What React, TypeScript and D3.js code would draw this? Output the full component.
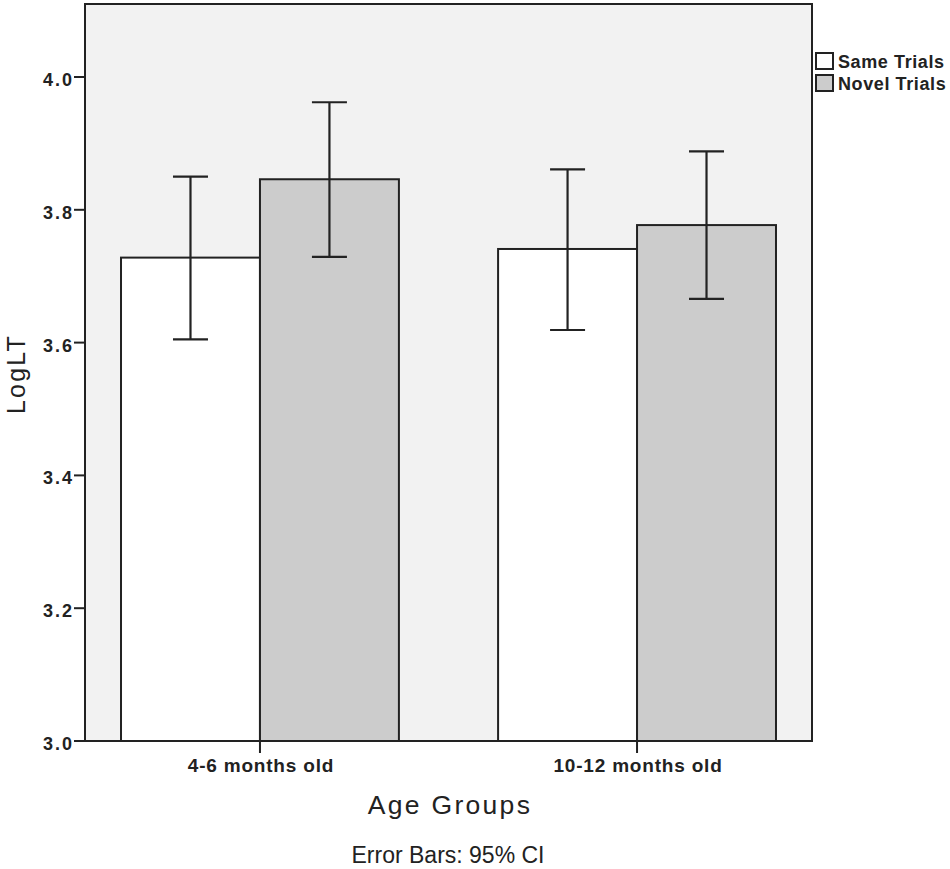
import React, { useEffect, useRef } from "react";
import * as d3 from "d3";

const categories = ["4-6 months old", "10-12 months old"];
const seriesNames = ["Same Trials", "Novel Trials"];
const meanSame = [3.728, 3.741];
const meanNovel = [3.846, 3.777];
const lowSame = [3.605, 3.619];
const highSame = [3.850, 3.861];
const lowNovel = [3.729, 3.666];
const highNovel = [3.962, 3.888];
const yTicks = [3.0, 3.2, 3.4, 3.6, 3.8, 4.0];

const W = 950;
const H = 869;
const plot = { left: 85, right: 812, top: 4, bottom: 741 };
const fills = ["#ffffff", "#cccccc"];
const FONT = "'Liberation Sans', Arial, sans-serif";

export default function App() {
  const ref = useRef<SVGSVGElement | null>(null);

  useEffect(() => {
    document.body.style.margin = "0";
    const svg = d3.select(ref.current);
    svg.selectAll("*").remove();

    const y = d3.scaleLinear().domain([3.0, 4.0]).range([plot.bottom, 77]);
    const x = d3
      .scaleBand<string>()
      .domain(categories)
      .range([plot.left, plot.right])
      .paddingInner(0.263)
      .paddingOuter(0.0955);
    const xs = d3.scaleBand<string>().domain(seriesNames).range([0, x.bandwidth()]);

    svg.append("rect").attr("width", W).attr("height", H).attr("fill", "#ffffff");
    svg
      .append("rect")
      .attr("x", plot.left)
      .attr("y", plot.top)
      .attr("width", plot.right - plot.left)
      .attr("height", plot.bottom - plot.top)
      .attr("fill", "#f2f2f2");

    const series = [
      { name: seriesNames[0], mean: meanSame, low: lowSame, high: highSame, fill: fills[0] },
      { name: seriesNames[1], mean: meanNovel, low: lowNovel, high: highNovel, fill: fills[1] },
    ];

    series.forEach((s) => {
      categories.forEach((c, i) => {
        const x0 = (x(c) as number) + (xs(s.name) as number);
        svg
          .append("rect")
          .attr("x", x0)
          .attr("y", y(s.mean[i]))
          .attr("width", xs.bandwidth())
          .attr("height", y(3.0) - y(s.mean[i]))
          .attr("fill", s.fill)
          .attr("stroke", "#222")
          .attr("stroke-width", 2);
      });
    });

    series.forEach((s) => {
      categories.forEach((c, i) => {
        const cx = (x(c) as number) + (xs(s.name) as number) + xs.bandwidth() / 2;
        const g = svg.append("g").attr("stroke", "#222").attr("stroke-width", 2.2);
        g.append("line").attr("x1", cx).attr("x2", cx).attr("y1", y(s.low[i])).attr("y2", y(s.high[i]));
        g.append("line").attr("x1", cx - 17.5).attr("x2", cx + 17.5).attr("y1", y(s.low[i])).attr("y2", y(s.low[i]));
        g.append("line").attr("x1", cx - 17.5).attr("x2", cx + 17.5).attr("y1", y(s.high[i])).attr("y2", y(s.high[i]));
      });
    });

    // frame
    svg
      .append("rect")
      .attr("x", plot.left)
      .attr("y", plot.top)
      .attr("width", plot.right - plot.left)
      .attr("height", plot.bottom - plot.top)
      .attr("fill", "none")
      .attr("stroke", "#222")
      .attr("stroke-width", 2);

    // y axis ticks
    yTicks.forEach((t) => {
      svg
        .append("line")
        .attr("x1", plot.left - 11)
        .attr("x2", plot.left)
        .attr("y1", y(t))
        .attr("y2", y(t))
        .attr("stroke", "#222")
        .attr("stroke-width", 2);
      svg
        .append("text")
        .attr("x", plot.left - 11)
        .attr("y", y(t) + 9)
        .attr("text-anchor", "end")
        .attr("font-family", FONT)
        .attr("font-weight", "bold")
        .attr("font-size", 18)
        .attr("letter-spacing", 2)
        .attr("fill", "#222")
        .text(d3.format(".1f")(t));
    });

    // x axis ticks
    categories.forEach((c) => {
      const cx = (x(c) as number) + x.bandwidth() / 2;
      svg
        .append("line")
        .attr("x1", cx)
        .attr("x2", cx)
        .attr("y1", plot.bottom)
        .attr("y2", plot.bottom + 12)
        .attr("stroke", "#222")
        .attr("stroke-width", 2);
      svg
        .append("text")
        .attr("x", cx + 1)
        .attr("y", 772)
        .attr("text-anchor", "middle")
        .attr("font-family", FONT)
        .attr("font-weight", "bold")
        .attr("font-size", 19)
        .attr("letter-spacing", 0.8)
        .attr("fill", "#222")
        .text(c);
    });

    svg
      .append("text")
      .attr("x", 450)
      .attr("y", 814)
      .attr("text-anchor", "middle")
      .attr("font-family", FONT)
      .attr("font-size", 26.5)
      .attr("letter-spacing", 2.3)
      .attr("fill", "#222")
      .text("Age Groups");

    svg
      .append("text")
      .attr("transform", `translate(25,374) rotate(-90)`)
      .attr("text-anchor", "middle")
      .attr("font-family", FONT)
      .attr("font-size", 25)
      .attr("letter-spacing", 2.2)
      .attr("fill", "#222")
      .text("LogLT");

    svg
      .append("text")
      .attr("x", 448)
      .attr("y", 863)
      .attr("text-anchor", "middle")
      .attr("font-family", FONT)
      .attr("font-size", 23)
      .attr("fill", "#222")
      .text("Error Bars: 95% CI");

    // legend
    seriesNames.forEach((n, i) => {
      const ly = 53 + i * 22;
      svg
        .append("rect")
        .attr("x", 816)
        .attr("y", ly)
        .attr("width", 17)
        .attr("height", 16)
        .attr("fill", fills[i])
        .attr("stroke", "#222")
        .attr("stroke-width", 2);
      svg
        .append("text")
        .attr("x", 838)
        .attr("y", ly + 15)
        .attr("font-family", FONT)
        .attr("font-weight", "bold")
        .attr("font-size", 18)
        .attr("letter-spacing", 0.6)
        .attr("fill", "#222")
        .text(n);
    });
  }, []);

  return <svg ref={ref} width={W} height={H} style={{ display: "block" }} />;
}
